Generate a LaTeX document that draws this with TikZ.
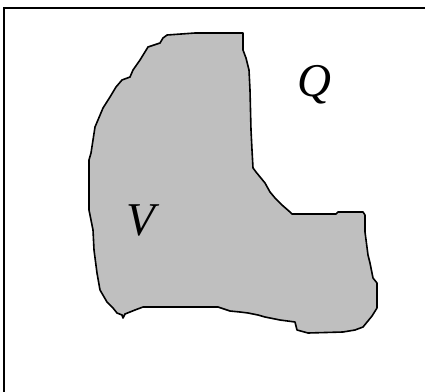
\documentclass[tikz,border=0pt]{standalone}
\usepackage{fontspec}
\setmainfont{Liberation Serif}
\usetikzlibrary{calc}

\begin{document}
\begin{tikzpicture}[
    x=1pt, y=-1pt,
    every node/.style={font=\fontsize{47}{52}\selectfont\itshape},
    region/.style={draw, line width=1.6pt, fill=black!25, line join=round},
    frame/.style={draw, line width=2pt}
]

\useasboundingbox (0,0) rectangle (425,391);
\clip (0,0) rectangle (425,391);

\draw[frame] (4,8) rectangle (440,410);

\draw[region] (167,35) -- (195,33) -- (243,33) -- (243,50) -- (246,58)
  -- (249,70) -- (250,90) -- (251,130) -- (252,150) -- (253,168)
  -- (256,172) -- (265,183) -- (270,192) -- (275,198) -- (282,205)
  -- (290,212) -- (292,214) -- (336,214) -- (338,212) -- (363,212)
  -- (365,215) -- (365,232) -- (368,255) -- (370,263) -- (373,278)
  -- (377,283) -- (377,308) -- (372,316) -- (363,327) -- (355,330)
  -- (343,332) -- (308,333) -- (297,330) -- (295,322) -- (280,320)
  -- (265,317) -- (258,315) -- (248,313) -- (240,312) -- (230,311)
  -- (218,307) -- (143,307) -- (135,310) -- (130,312) -- (125,314)
  -- (123,318) -- (122,315) -- (117,313) -- (113,308) -- (107,302)
  -- (100,290) -- (97,273) -- (94,250) -- (93,230) -- (89,210)
  -- (89,195) -- (89,160) -- (91,153) -- (93,140) -- (95,127)
  -- (103,108) -- (110,97) -- (116,87) -- (122,80) -- (130,77)
  -- (133,70) -- (140,60) -- (148,47) -- (160,43) -- (163,38) -- cycle;

\node (lblQ) at (314,85) {Q};
\node (lblV) at (141,220) {V};

\end{tikzpicture}
\end{document}
